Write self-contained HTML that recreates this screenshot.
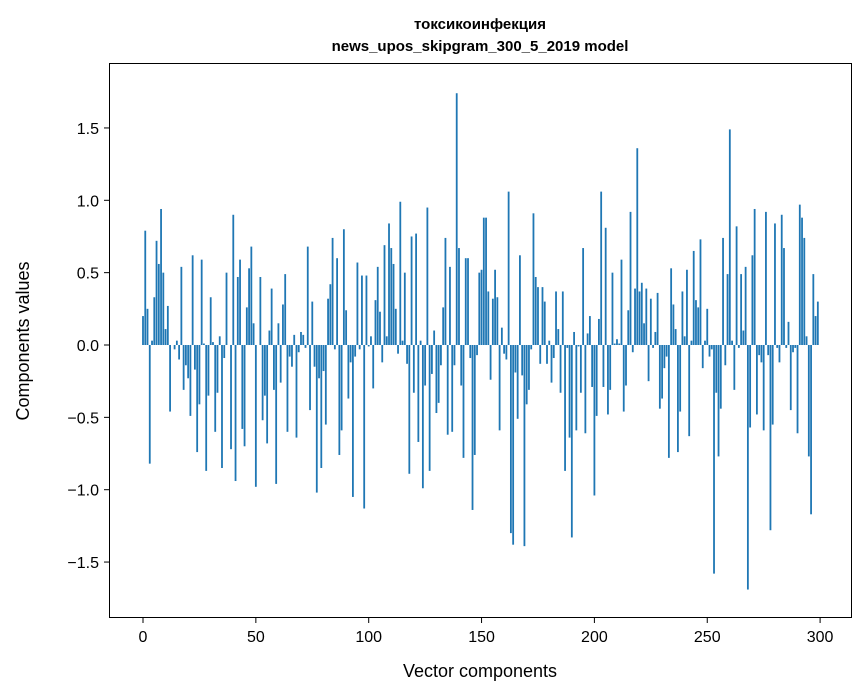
<!DOCTYPE html>
<html><head><meta charset="utf-8"><style>
body{margin:0;background:#fff;}
svg{display:block;font-family:"Liberation Sans","DejaVu Sans",sans-serif;}
</style></head><body>
<svg id="s" width="867" height="696" xmlns="http://www.w3.org/2000/svg">
<rect width="867" height="696" fill="#fff"/>
<g id="bars" fill="#1f77b4"></g>
<rect x="109.5" y="63.5" width="742" height="554" fill="none" stroke="#000" stroke-width="1"/>
<g id="ticks" stroke="#000" stroke-width="1"></g>
<g id="labels" font-size="16" fill="#000"></g>
<text x="480" y="29" font-size="15" font-weight="bold" text-anchor="middle">токсикоинфекция</text>
<text x="480" y="51" font-size="15" font-weight="bold" text-anchor="middle">news_upos_skipgram_300_5_2019 model</text>
<text x="480" y="677" font-size="18" text-anchor="middle">Vector components</text>
<text transform="translate(29,341) rotate(-90)" font-size="18" text-anchor="middle">Components values</text>
</svg>
<script>
var v=[0.20,0.79,0.25,-0.82,0.03,0.33,0.72,0.56,0.94,0.5,0.11,0.27,-0.46,0.0,-0.03,0.03,-0.1,0.54,-0.31,-0.14,-0.23,-0.49,0.62,-0.17,-0.74,-0.41,0.59,0.01,-0.87,-0.35,0.33,0.02,-0.6,-0.33,0.06,-0.85,-0.09,0.5,0.0,-0.72,0.9,-0.94,0.47,0.59,-0.58,-0.7,0.26,0.53,0.68,0.15,
-0.98,0,0.47,-0.52,-0.35,-0.68,0.1,0.39,-0.31,-0.96,0.15,-0.26,0.28,0.49,-0.6,-0.08,-0.15,0.07,-0.64,-0.05,0.09,0.07,-0.02,0.68,-0.45,0.3,-0.15,-1.02,-0.23,-0.85,-0.18,-0.55,0.32,0.42,0.74,-0.03,0.6,-0.76,-0.59,0.8,0.24,-0.37,-0.12,-1.05,-0.08,0.57,-0.03,0.48,-1.13,
0.48,-0.01,0.06,-0.3,0.31,0.54,0.23,-0.12,0.69,0.06,0.84,0.67,0.56,0.25,-0.06,0.99,0.03,0.5,-0.13,-0.89,0.75,-0.33,0.77,-0.67,0.03,-0.99,-0.28,0.95,-0.87,-0.2,0.1,-0.47,-0.4,-0.14,0.26,0.74,-0.62,0.54,-0.6,-0.14,1.74,0.67,-0.28,-0.78,0.6,0.6,-0.09,-1.14,-0.76,-0.07,0.5,0.52,0.88,
0.88,0.37,-0.24,0.32,0.52,0.33,-0.59,0.12,-0.06,-0.1,1.06,-1.3,-1.38,-0.19,-0.51,0.62,-0.21,-1.39,-0.41,-0.31,-0.03,0.91,0.47,0.4,-0.13,0.4,0.3,-0.13,0.03,-0.26,-0.09,0.37,0.11,-0.33,0.37,-0.87,-0.02,-0.64,-1.33,0.09,-0.59,-0.01,-0.33,0.67,-0.61,0.08,0.2,-0.29,-1.04,-0.49,0.18,1.06,
-0.29,0.81,-0.48,-0.31,0.5,0.01,0.04,0.01,0.59,-0.46,-0.28,0.24,0.92,-0.05,0.39,1.36,0.37,0.43,0.15,0.39,-0.25,0.32,-0.02,0.09,0.36,-0.44,-0.37,-0.16,-0.08,-0.78,0.53,0.28,0.11,-0.74,-0.46,0.37,0.06,0.52,-0.63,0.03,0.65,0.31,0.26,0.73,-0.16,0.03,0.25,-0.08,-0.03,-1.58,-0.33,
-0.77,-0.44,0.74,-0.14,0.49,1.49,0.03,-0.31,0.82,-0.02,0.49,0.1,0.54,-1.69,-0.57,0.62,0.94,-0.48,-0.07,-0.12,-0.59,0.92,-0.07,-1.28,-0.55,0.84,-0.02,-0.12,0.9,0.67,-0.02,0.16,-0.45,-0.05,-0.02,-0.61,0.97,0.88,0.74,0.06,-0.77,-1.17,0.49,0.2,0.3,0.33];
var n=Math.min(v.length,300),off=300-n;
var x0=143,sx=2.257,y0=345,sy=144.7,b=document.getElementById('bars'),h='';
for(var i=0;i<n;i++){var idx=i+off,val=v[i];var x=x0+sx*idx-0.9;var y=val>=0?y0-val*sy:y0;var hh=Math.abs(val)*sy;
h+='<rect x="'+x.toFixed(2)+'" y="'+y.toFixed(2)+'" width="1.8" height="'+hh.toFixed(2)+'"/>';}
b.innerHTML=h;
var t='',l='';
for(var k=0;k<=6;k++){var xv=k*50,x=x0+sx*xv;t+='<line x1="'+x+'" y1="618" x2="'+x+'" y2="623"/>';l+='<text x="'+x+'" y="642" text-anchor="middle">'+xv+'</text>';}
for(var k=-3;k<=3;k++){var yv=k*0.5,y=y0-yv*sy;t+='<line x1="104" y1="'+y+'" x2="109" y2="'+y+'"/>';l+='<text x="99" y="'+(y+6)+'" text-anchor="end">'+(yv<0?'\u2212':'')+Math.abs(yv).toFixed(1)+'</text>';}
document.getElementById('ticks').innerHTML=t;document.getElementById('labels').innerHTML=l;
</script>
</body></html>
